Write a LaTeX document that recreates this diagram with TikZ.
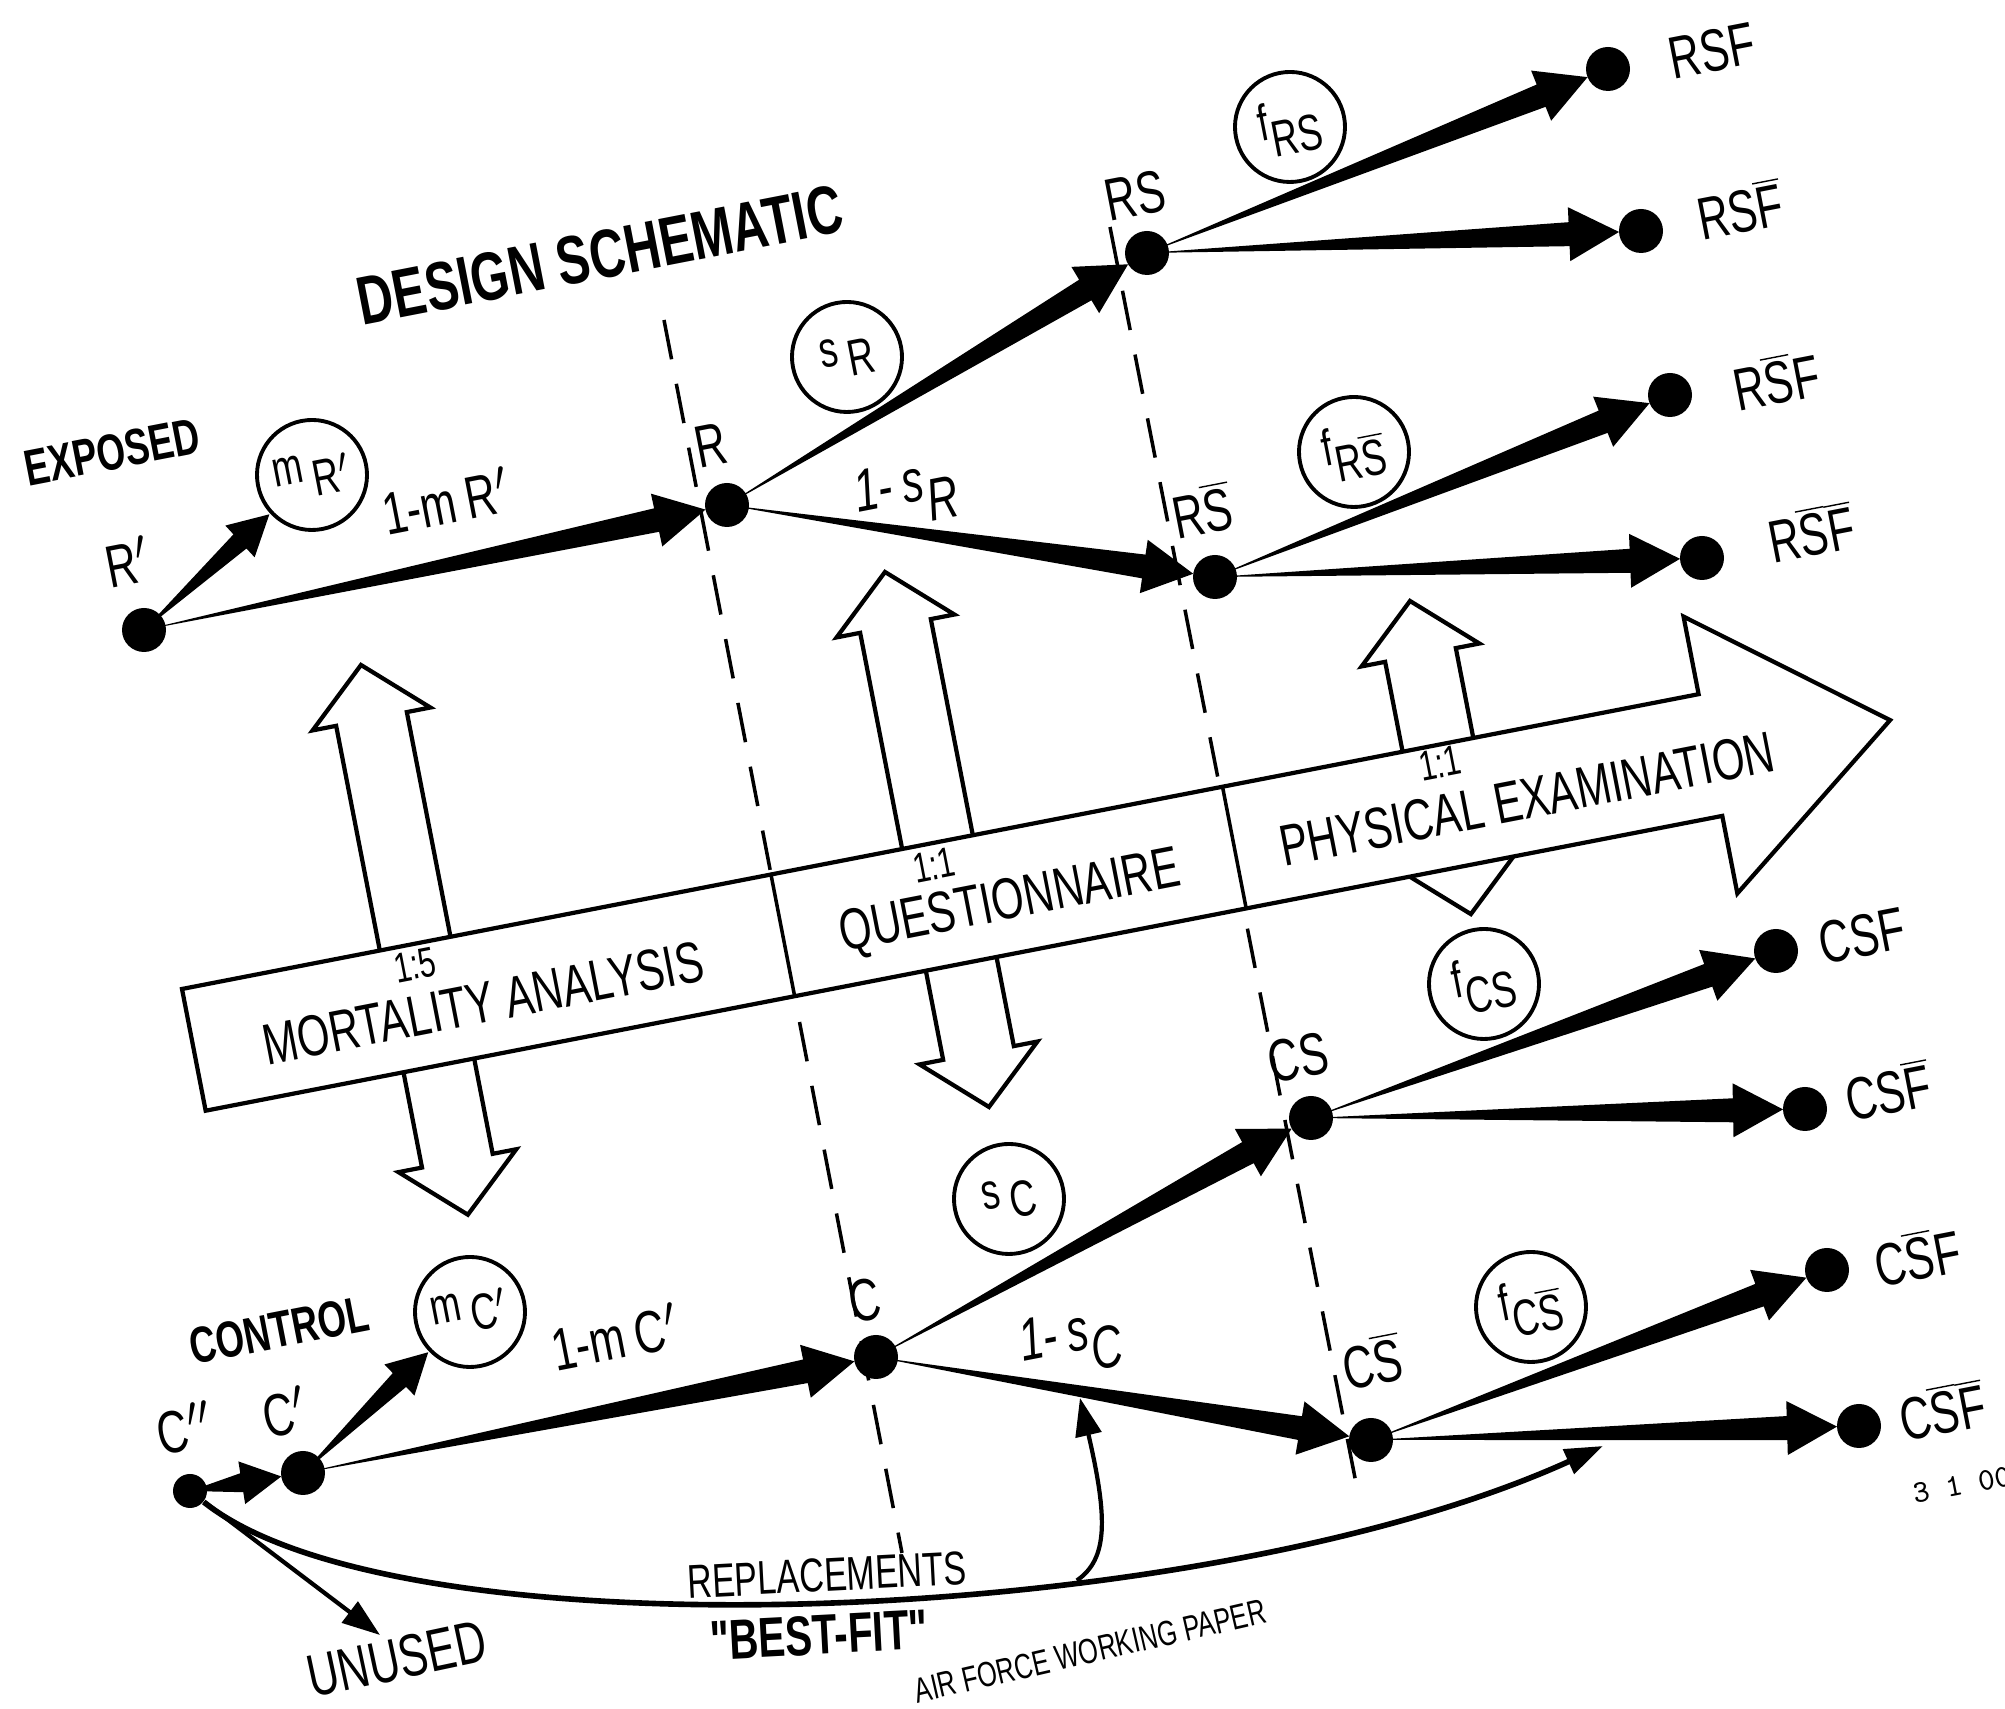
\documentclass[tikz,border=0pt]{standalone}
\usepackage{fontspec}
\setmainfont{Liberation Sans}[FakeStretch=0.72, Ligatures=TeXOff]
\usetikzlibrary{arrows.meta, calc, positioning}

\newcommand{\prm}{\ensuremath{^{\prime}}}
\newcommand{\dprm}{\ensuremath{^{\prime\prime}}}
\newcommand{\nS}{\ensuremath{\overline{\mbox{S}}}}
\newcommand{\nF}{\ensuremath{\overline{\mbox{F}}}}

% tapered flow arrow: from, to, gap at target, size
\newcommand{\taper}[4]{%
  \path ($(#2)!#3cm!(#1)$) coordinate (tip)
        ($(tip)!#4*0.5cm!(#1)$) coordinate (hb);
  \fill (#1.center) -- ($(hb)!#4*0.12cm!90:(tip)$) -- ($(hb)!#4*0.27cm!90:(tip)$)
    -- (tip) -- ($(hb)!#4*0.27cm!-90:(tip)$) -- ($(hb)!#4*0.12cm!-90:(tip)$) -- cycle;
}

\tikzset{
  subj/.style={circle, fill, inner sep=0pt, minimum size=0.44cm},
  prob/.style={circle, draw, line width=1.1pt, minimum size=1.1cm, inner sep=0pt, rotate=11, font=\fontsize{14.5}{15}\selectfont},
  lbl/.style={rotate=11, inner sep=0pt, font=\fontsize{17}{19}\selectfont},
  stage/.style={rotate=11, inner sep=0pt, font=\fontsize{16.5}{18}\selectfont},
  ratio/.style={rotate=11, inner sep=0pt, font=\fontsize{12}{13}\selectfont},
  cohort/.style={rotate=11, inner sep=0pt, font=\bfseries\fontsize{14.5}{16}\selectfont},
  divline/.style={line width=1pt, dash pattern=on 0.4cm off 0.25cm},
  hollow/.style={draw, fill=white, line width=1.2pt, line join=miter},
  feed/.style={line width=1.2pt, -{Triangle[length=0.38cm, width=0.26cm]}}
}

\begin{document}
\begin{tikzpicture}
  \useasboundingbox (0,0) rectangle (20.05,17.09);

  % Stage boundaries
  \draw[divline] (6.64,13.89) -- (9.02,1.56);
  \draw[divline] (11.10,14.82) -- (13.56,2.26);

  % Sampling arrows between the groups
  \foreach \x/\y/\len in {3.61/10.44/5.6, 8.85/11.37/5.45, 14.10/11.08/3.19}
    \draw[hollow, shift={(\x,\y)}, rotate=11]
      (0,0) -- (0.6,-0.55) -- (0.36,-0.55) -- (0.36,0.55-\len) -- (0.6,0.55-\len)
      -- (0,-\len) -- (-0.6,0.55-\len) -- (-0.36,0.55-\len) -- (-0.36,-0.55) -- (-0.6,-0.55) -- cycle;

  % Study phases band
  \begin{scope}[shift={(1.82,7.20)}, rotate=11]
    \draw[hollow] (0,0) -- (15.45,0) -- (15.45,0.79) -- (17.28,-0.62) -- (15.45,-2.03)
      -- (15.45,-1.24) -- (0,-1.24) -- cycle;
    \draw[line width=1pt] (6.0,0) -- (6.0,-1.24) (10.6,0) -- (10.6,-1.24);
  \end{scope}
  \node[ratio] (r15) at (4.15,7.44) {1:5};
  \node[stage] (mort) at (4.83,7.06) {MORTALITY ANALYSIS};
  \node[ratio] (r11a) at (9.34,8.44) {1:1};
  \node[stage] (quest) at (10.10,8.05) {QUESTIONNAIRE};
  \node[ratio] (r11b) at (14.40,9.46) {1:1};
  \node[stage] (phys) at (15.27,9.10) {PHYSICAL EXAMINATION};

  % Exposed branch
  \node[subj] (Rp) at (1.44,10.79) {};
  \node[subj] (R) at (7.27,12.04) {};
  \node[subj] (RS) at (11.47,14.56) {};
  \node[subj] (RSb) at (12.15,11.32) {};
  \node[subj] (RSF) at (16.08,16.40) {};
  \node[subj] (RSFb) at (16.41,14.78) {};
  \node[subj] (RSbF) at (16.70,13.14) {};
  \node[subj] (RSbFb) at (17.02,11.51) {};
  \node[prob] (mR) at (3.12,12.34) {m\,\raisebox{-0.6ex}{R\prm}};
  \node[prob] (sR) at (8.47,13.52) {s\,\raisebox{-0.5ex}{R}};
  \node[prob] (fRS) at (12.90,15.82) {f\raisebox{-0.7ex}{RS}};
  \node[prob] (fRSb) at (13.54,12.57) {f\raisebox{-0.7ex}{R\nS}};

  \taper{Rp}{mR}{0.58}{0.8}
  \foreach \a/\b in {Rp/R, R/RS, R/RSb, RS/RSF, RS/RSFb, RSb/RSbF, RSb/RSbFb}
    \taper{\a}{\b}{0.22}{1};

  % Control branch
  \node[subj, minimum size=0.34cm] (Cpp) at (1.90,2.18) {};
  \node[subj] (Cp) at (3.03,2.36) {};
  \node[subj] (C) at (8.76,3.52) {};
  \node[subj] (CS) at (13.11,5.91) {};
  \node[subj] (CSb) at (13.71,2.69) {};
  \node[subj] (CSF) at (17.76,7.58) {};
  \node[subj] (CSFb) at (18.05,6.00) {};
  \node[subj] (CSbF) at (18.27,4.39) {};
  \node[subj] (CSbFb) at (18.59,2.83) {};
  \node[prob] (mC) at (4.70,3.97) {m\,\raisebox{-0.5ex}{C\prm}};
  \node[prob] (sC) at (10.09,5.10) {s\,\raisebox{-0.5ex}{C}};
  \node[prob] (fCS) at (14.84,7.25) {f\raisebox{-0.7ex}{CS}};
  \node[prob] (fCSb) at (15.31,4.02) {f\raisebox{-0.7ex}{C\nS}};

  \taper{Cpp}{Cp}{0.22}{0.8}
  \taper{Cp}{mC}{0.58}{0.8}
  \foreach \a/\b in {Cp/C, C/CS, C/CSb, CS/CSF, CS/CSFb, CSb/CSbF, CSb/CSbFb}
    \taper{\a}{\b}{0.22}{1};

  % Replacements and unused controls
  \coordinate (lost) at (3.80,0.74);
  \coordinate (fitend) at (16.03,2.63);
  \coordinate (fitup) at (10.80,3.11);
  \draw[feed] (Cpp) -- (lost);
  \draw[feed, line width=1.6pt] (Cpp) .. controls (4.0,0.5) and (12,0.8) .. coordinate[pos=0.65] (fork) (fitend);
  \draw[feed] (fork) .. controls (11.08,1.5) and (11.08,1.9) .. (fitup);

  % Labels
  \node[rotate=11, inner sep=0pt, font=\bfseries\fontsize{19.5}{22}\selectfont] (ttl) at (6.00,14.54) {DESIGN SCHEMATIC};
  \node[cohort] (exp) at (1.12,12.57) {EXPOSED};
  \node[cohort] (ctl) at (2.79,3.79) {CONTROL};
  \node[lbl] (lRp) at (1.28,11.47) {R\prm};
  \node[lbl] (lmR) at (4.46,12.08) {1-m\,R\prm};
  \node[lbl] (lR) at (7.11,12.64) {R};
  \node[lbl] (lsR) at (9.06,12.15) {\itshape 1-\,s\raisebox{-0.7ex}{R}};
  \node[lbl] (lRS) at (11.35,15.13) {RS};
  \node[lbl] (lRSb) at (12.02,11.99) {R\nS};
  \node[lbl] (lRSF) at (17.12,16.58) {RSF};
  \node[lbl] (lRSFb) at (17.40,15.00) {RS\nF};
  \node[lbl] (lRSbF) at (17.76,13.29) {R\nS F};
  \node[lbl] (lRSbFb) at (18.11,11.77) {R\nS\nF};
  \node[lbl] (lCpp) at (1.85,2.81) {C\dprm};
  \node[lbl] (lCp) at (2.85,2.97) {C\prm};
  \node[lbl] (lmC) at (6.15,3.72) {1-m\,C\prm};
  \node[lbl] (lC) at (8.65,4.09) {C};
  \node[lbl] (lsC) at (10.71,3.66) {\itshape 1-\,s\raisebox{-0.7ex}{C}};
  \node[lbl] (lCS) at (12.98,6.51) {CS};
  \node[lbl] (lCSb) at (13.72,3.48) {C\nS};
  \node[lbl] (lCSF) at (18.62,7.73) {CSF};
  \node[lbl] (lCSFb) at (18.88,6.19) {CS\nF};
  \node[lbl] (lCSbF) at (19.17,4.53) {C\nS F};
  \node[lbl] (lCSbFb) at (19.42,2.99) {C\nS\nF};
  \node[rotate=12, inner sep=0pt, font=\fontsize{17}{19}\selectfont] (unused) at (3.97,0.50) {UNUSED};
  \node[rotate=3, inner sep=0pt, font=\fontsize{13.5}{15}\selectfont] (repl) at (8.27,1.34) {REPLACEMENTS};
  \node[rotate=3, inner sep=0pt, font=\bfseries\fontsize{16}{18}\selectfont] (best) at (8.19,0.74) {"BEST-FIT"};
  \node[rotate=13, inner sep=0pt, font=\fontsize{10}{11}\selectfont] (afwp) at (10.90,0.58) {AIR FORCE WORKING PAPER};
  \node[rotate=11, inner sep=0pt, font=\ttfamily\fontsize{9}{10}\selectfont] (code) at (19.62,2.24) {3 1 00};
\end{tikzpicture}
\end{document}
